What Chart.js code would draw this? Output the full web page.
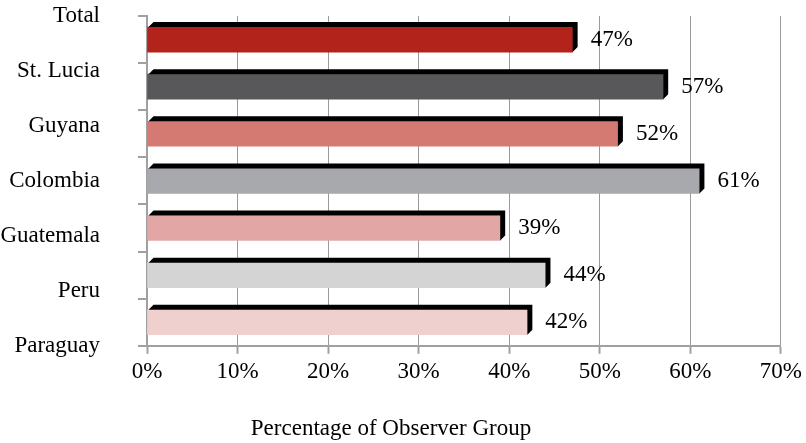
<!DOCTYPE html>
<html>
<head>
<meta charset="utf-8">
<script src="https://cdn.jsdelivr.net/npm/chart.js@4"></script>
<style>
html,body{margin:0;padding:0;background:#fff;}
#wrap{width:806px;height:443px;}
</style>
</head>
<body>
<div id="wrap"><canvas id="chart"></canvas></div>
<script>
const countries=["Total","St. Lucia","Guyana","Colombia","Guatemala","Peru","Paraguay"];
const shares=[47,57,52,61,39,44,42];
const barColors=["#b2231b","#58585a","#d57a73","#a8a9ac","#e2a7a4","#d4d4d5","#f0d0cf"];
const xTicks=[0,10,20,30,40,50,60,70];

const FONT={family:"'Liberation Serif','DejaVu Serif',serif",size:23};

// black 3D edge on top/right of each bar, plus the value label
const bar3d={
  id:"bar3d",
  afterDatasetsDraw(chart){
    const ctx=chart.ctx;
    const meta=chart.getDatasetMeta(0);
    const d=5;
    ctx.save();
    meta.data.forEach((bar,i)=>{
      const top=bar.y-bar.height/2, bot=bar.y+bar.height/2;
      ctx.fillStyle="#000";
      ctx.beginPath();
      ctx.moveTo(bar.base+1,top);
      ctx.lineTo(bar.base+1+d,top-d);
      ctx.lineTo(bar.x+d,top-d);
      ctx.lineTo(bar.x+d,bot-d);
      ctx.lineTo(bar.x,bot);
      ctx.lineTo(bar.x,top);
      ctx.closePath();
      ctx.fill();
      ctx.font=FONT.size+"px "+FONT.family;
      ctx.textBaseline="middle";
      ctx.textAlign="left";
      ctx.fillText(shares[i]+"%",bar.x+d+13,bar.y);
    });
    ctx.restore();
  }
};

new Chart(document.getElementById("chart"),{
  type:"bar",
  data:{
    labels:countries,
    datasets:[{data:shares,backgroundColor:barColors,barThickness:25}]
  },
  options:{
    indexAxis:"y",
    responsive:true,
    maintainAspectRatio:false,
    animation:false,
    layout:{padding:{top:16,right:24,left:0,bottom:0}},
    plugins:{
      legend:{display:false},
      tooltip:{enabled:false},
      title:{display:true,position:"bottom",text:"Percentage of Observer Group",
        color:"#000",font:{...FONT,weight:"normal"},padding:{top:26,bottom:0}}
    },
    scales:{
      x:{
        min:0,max:70,
        afterBuildTicks:s=>{s.ticks=xTicks.map(v=>({value:v}));},
        ticks:{callback:v=>v+"%",color:"#000",font:FONT,padding:4,maxRotation:0},
        grid:{color:"#9a9a9a",borderDash:[1,1],lineWidth:1,tickLength:8,tickColor:"#a0a0a0",tickWidth:2,tickBorderDash:[]},
        border:{color:"#a0a0a0",width:2}
      },
      y:{
        type:"category",
        offset:true,
        ticks:{display:false},
        grid:{display:true,drawOnChartArea:false,offset:true,tickLength:9,tickColor:"#a0a0a0",tickWidth:2,color:"#a0a0a0",lineWidth:2},
        border:{color:"#a0a0a0",width:2},
        afterFit:s=>{s.width=10;}
      },
      y2:{
        type:"category",
        position:"left",
        labels:countries,
        offset:false,
        weight:1,
        grid:{display:false},
        border:{display:false},
        ticks:{color:"#000",font:FONT,padding:29,autoSkip:false},
        afterFit:s=>{s.width=137;s.paddingTop=0;s.paddingBottom=0;}
      }
    }
  },
  plugins:[bar3d]
});
</script>
</body>
</html>
